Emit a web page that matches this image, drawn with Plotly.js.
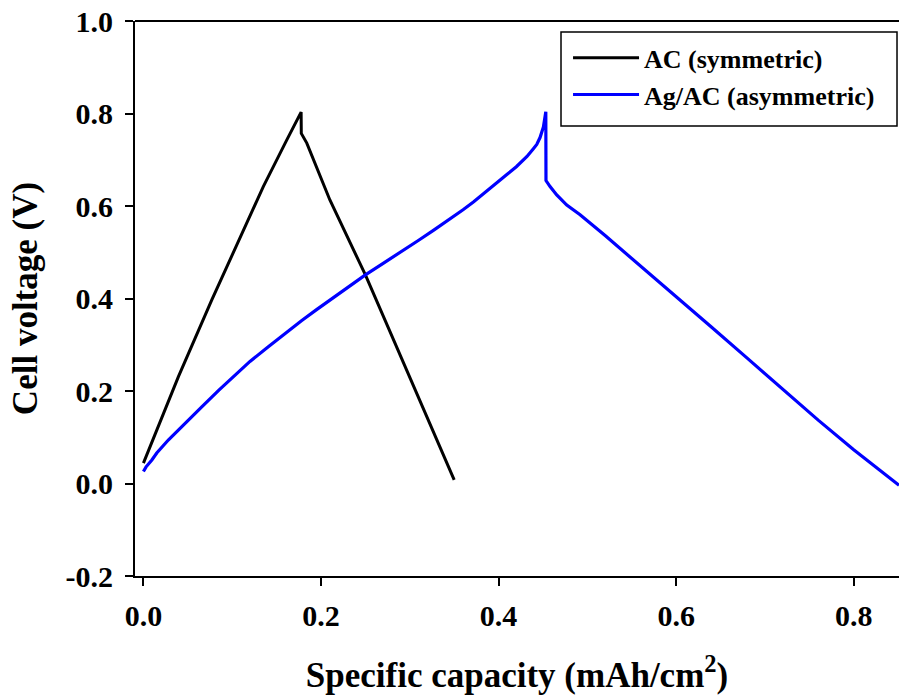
<!DOCTYPE html>
<html>
<head>
<meta charset="utf-8">
<script src="https://cdn.plot.ly/plotly-3.0.1.min.js"></script>
<style>html,body{margin:0;padding:0;background:#fff;}#chart{width:899px;height:699px;}</style>
</head>
<body>
<div id="chart"></div>
<script>
// AC (symmetric) charge-discharge curve
const acCapacity = [0, 0.02, 0.0394, 0.077, 0.105, 0.135, 0.1615, 0.1776, 0.1778, 0.184, 0.210, 0.25, 0.276, 0.35];
const acVoltage  = [0.044, 0.139, 0.231, 0.397, 0.515, 0.642, 0.743, 0.803, 0.757, 0.736, 0.613, 0.451, 0.336, 0.008];

// Ag/AC (asymmetric) charge-discharge curve
const agCapacity = [0, 0.003, 0.0095, 0.015, 0.028, 0.045, 0.066, 0.085, 0.103, 0.12, 0.141, 0.16, 0.178, 0.195, 0.212, 0.23, 0.25, 0.27, 0.29, 0.31, 0.327,
                    0.345, 0.36, 0.372, 0.383, 0.392, 0.4015, 0.41, 0.420, 0.4242, 0.432, 0.4392, 0.443, 0.4467, 0.4505, 0.4532,
                    0.4534, 0.458, 0.4655, 0.4768, 0.4918, 0.52, 0.548, 0.575, 0.601, 0.64, 0.68, 0.72, 0.76, 0.80, 0.851];
const agVoltage  = [0.026, 0.036, 0.051, 0.066, 0.094, 0.127, 0.166, 0.202, 0.235, 0.264, 0.296, 0.325, 0.352, 0.376, 0.399, 0.424, 0.451, 0.476, 0.500, 0.526, 0.548,
                    0.571, 0.592, 0.609, 0.627, 0.641, 0.656, 0.669, 0.685, 0.693, 0.707, 0.724, 0.733, 0.748, 0.771, 0.804,
                    0.655, 0.642, 0.624, 0.602, 0.581, 0.536, 0.490, 0.447, 0.404, 0.338, 0.271, 0.204, 0.137, 0.073, -0.004];

const seriesNames = ["AC (symmetric)", "Ag/AC (asymmetric)"];
const xTickVals = [0, 0.2, 0.4, 0.6, 0.8];
const xTickText = ["0.0", "0.2", "0.4", "0.6", "0.8"];
const yTickVals = [-0.2, 0, 0.2, 0.4, 0.6, 0.8, 1.0];
const yTickText = ["-0.2", "0.0", "0.2", "0.4", "0.6", "0.8", "1.0"];

const FONT = "Liberation Serif";

const traces = [
  {x: acCapacity, y: acVoltage, type: "scatter", mode: "lines", name: seriesNames[0],
   line: {color: "#000000", width: 3}},
  {x: agCapacity, y: agVoltage, type: "scatter", mode: "lines", name: seriesNames[1],
   line: {color: "#0000ff", width: 3.2}}
];

const layout = {
  width: 899, height: 699,
  margin: {l: 135, r: 0, t: 21, b: 123},
  paper_bgcolor: "#ffffff", plot_bgcolor: "#ffffff",
  font: {family: FONT, color: "#000", size: 30, weight: "bold"},
  showlegend: true,
  legend: {
    x: 0.5668, y: 0.976, xanchor: "left", yanchor: "top",
    bgcolor: "rgba(0,0,0,0)", borderwidth: 0,
    font: {family: FONT, size: 26, color: "#000", weight: "bold"},
    itemwidth: 66, tracegroupgap: 0
  },
  xaxis: {
    range: [-0.0095, 0.851], showgrid: false, zeroline: false,
    showline: true, linecolor: "#000", linewidth: 2,
    ticks: "outside", ticklen: 8, tickwidth: 2, tickcolor: "#000",
    tickvals: xTickVals, ticktext: xTickText,
    tickfont: {family: FONT, size: 30, color: "#000", weight: "bold"},
    ticklabelstandoff: 4,
    title: {text: "Specific capacity (mAh/cm<sup>2</sup>)", standoff: 31,
            font: {family: FONT, size: 35, color: "#000", weight: "bold"}}
  },
  yaxis: {
    range: [-0.2, 1.0], showgrid: false, zeroline: false,
    showline: true, linecolor: "#000", linewidth: 2,
    ticks: "outside", ticklen: 8, tickwidth: 2, tickcolor: "#000",
    tickvals: yTickVals, ticktext: yTickText,
    tickfont: {family: FONT, size: 30, color: "#000", weight: "bold"},
    ticklabelstandoff: 6,
    title: {text: "Cell voltage (V)", standoff: 17,
            font: {family: FONT, size: 35, color: "#000", weight: "bold"}}
  },
  shapes: [
    {type: "line", xref: "paper", yref: "paper", x0: 0, x1: 1, y0: 1, y1: 1,
     line: {color: "#000", width: 2}},
    {type: "rect", xref: "paper", yref: "paper", x0: 0.5576, x1: 0.9974, y0: 0.8108, y1: 0.9802,
     layer: "above", fillcolor: "#ffffff", line: {color: "#000", width: 1.5}}
  ]
};

Plotly.newPlot("chart", traces, layout, {displayModeBar: false, staticPlot: true});
</script>
</body>
</html>
